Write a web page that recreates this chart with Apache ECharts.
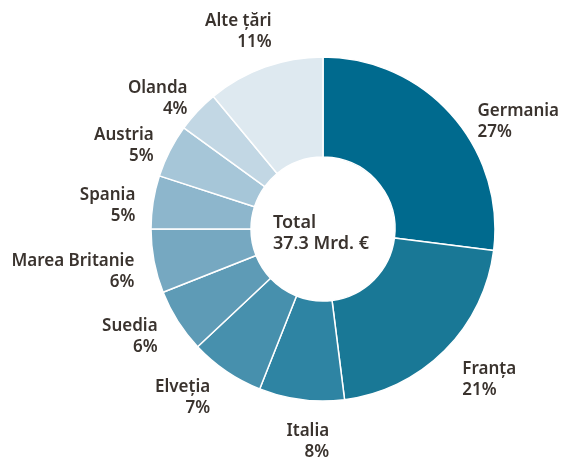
<!DOCTYPE html>
<html>
<head>
<meta charset="utf-8">
<script src="https://cdn.jsdelivr.net/npm/echarts@6/dist/echarts.min.js"></script>
<style>
  html, body { margin: 0; padding: 0; background: #fff; }
  #main { width: 563px; height: 457px; }
</style>
</head>
<body>
<div id="main"></div>
<script>
const countries = ['Germania', 'Franța', 'Italia', 'Elveția', 'Suedia', 'Marea Britanie', 'Spania', 'Austria', 'Olanda', 'Alte țări']
const shares = [27, 21, 8, 7, 6, 6, 5, 5, 4, 11]
const sliceColors = ['#006a8e', '#197896', '#2e84a3', '#4790ad', '#5e9bb6', '#76a8c1', '#8db6cc', '#a6c6d8', '#c2d7e4', '#dee9f0']
const totalText = ['Total', '37.3 Mrd. €']

// small shifts of the labels away from where the pie puts them
const labelNudge = [[7, 18], [0, 16], [35, 24], [-1, 12], [0, 6], [3, 7], [5, 6], [5, 3], [8, 0], [18, -19]]

const textColor = '#3a332e'
const fontFamily = '"Noto Sans", sans-serif'

let myChart = echarts.init(document.getElementById('main'))

const makeData = () => countries.map((name, i) => ({
    name: name,
    value: shares[i],
    itemStyle: { color: sliceColors[i] }
}))

const option = {
    backgroundColor: '#fff',
    title: {
        text: totalText.join('\n'),
        left: 268,
        top: 207,
        textStyle: {
            color: textColor,
            fontFamily: fontFamily,
            fontSize: 18,
            fontWeight: 600,
            lineHeight: 21
        }
    },
    series: [
        {
            type: 'pie',
            center: [323, 229],
            radius: [72, 172],
            startAngle: 90,
            clockwise: true,
            avoidLabelOverlap: false,
            animation: false,
            itemStyle: {
                borderColor: '#fff',
                borderWidth: 1.5
            },
            label: {
                show: true,
                position: 'outside',
                formatter: '{n|{b}}\n{n|{c}%}',
                color: textColor,
                rich: {
                    n: {
                        color: textColor,
                        fontFamily: fontFamily,
                        fontSize: 17,
                        fontWeight: 600,
                        lineHeight: 21
                    }
                }
            },
            labelLine: {
                show: false,
                length: 18,
                length2: 0
            },
            labelLayout: (params) => ({
                dx: labelNudge[params.dataIndex][0],
                dy: labelNudge[params.dataIndex][1]
            }),
            data: makeData()
        }
    ]
}

myChart.setOption(option)
</script>
</body>
</html>
